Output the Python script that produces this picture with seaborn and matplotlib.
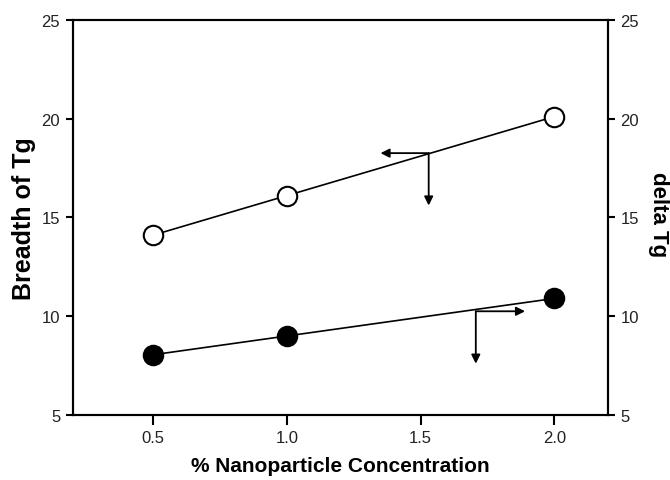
import matplotlib
matplotlib.use("Agg")
import matplotlib.pyplot as plt
import seaborn as sns
import pandas as pd

# ---- data ----
concentration = [0.5, 1.0, 2.0]
breadth_tg = [14.1, 16.1, 20.1]      # open circles, left axis
delta_tg = [8.05, 9.0, 10.9]         # filled circles, right axis
x_ticks = [0.5, 1.0, 1.5, 2.0]
y_ticks = [5, 10, 15, 20, 25]

# arrow annotations (start junction, side tip, down tip)
arrow_open_origin = (1.53, 18.25)
arrow_open_side = (1.35, 18.25)
arrow_open_down = (1.53, 15.6)
arrow_fill_origin = (1.706, 10.25)
arrow_fill_side = (1.89, 10.25)
arrow_fill_down = (1.706, 7.6)

sns.set_theme(style="white")
plt.rcParams['font.family'] = ['Liberation Sans', 'DejaVu Sans']

df = pd.DataFrame({"conc": concentration, "breadth": breadth_tg, "delta": delta_tg})

fig = plt.figure(figsize=(6.70, 4.81), dpi=100)
ax = fig.add_axes([0.1085, 0.135, 0.799, 0.822])

sns.lineplot(data=df, x="conc", y="breadth", ax=ax, color="black", lw=1.2,
             marker="o", markersize=14, markerfacecolor="white",
             markeredgecolor="black", markeredgewidth=1.5, zorder=3)
sns.lineplot(data=df, x="conc", y="delta", ax=ax, color="black", lw=1.2,
             marker="o", markersize=14, markerfacecolor="black",
             markeredgecolor="black", markeredgewidth=1.5, zorder=3)

ax.set_xlim(0.2, 2.2)
ax.set_ylim(5, 25)
ax.set_xticks(x_ticks)
ax.set_xticklabels([f"{v:.1f}" for v in x_ticks])
ax.set_yticks(y_ticks)

tick_family = ['Liberation Sans Narrow', 'Liberation Sans', 'DejaVu Sans']
for lab in ax.get_xticklabels() + ax.get_yticklabels():
    lab.set_fontfamily(tick_family)
    lab.set_fontsize(12)
    lab.set_color('#222222')

ax.set_xlabel("% Nanoparticle Concentration", fontsize=15, fontweight="bold",
              labelpad=8, color="black")
ax.set_ylabel("Breadth of Tg", fontsize=18, fontweight="bold", labelpad=4, color="black")

for s in ax.spines.values():
    s.set_color("black")
    s.set_linewidth(1.5)

ax.tick_params(axis="both", which="major", direction="out", length=5, width=1.5,
               color="black", left=True, bottom=True, pad=4)
ax.tick_params(axis="x", length=7)

ax2 = ax.twinx()
ax2.set_ylim(5, 25)
ax2.set_yticks(y_ticks)
for lab in ax2.get_yticklabels():
    lab.set_fontfamily(tick_family)
    lab.set_fontsize(12)
    lab.set_color('#222222')
ax2.tick_params(axis="y", direction="out", length=5, width=1.5, color="black", right=True, pad=4)
ax2.set_ylabel("delta Tg", fontsize=16, fontweight="bold", rotation=270, color="black",
               va="center", ha="center")
ax2.yaxis.set_label_coords(1.095, 0.51)
for s in ax2.spines.values():
    s.set_color("black")
    s.set_linewidth(1.5)
ax2.grid(False)
ax.grid(False)

aprops = dict(arrowstyle="-|>", lw=1.3, color="black", mutation_scale=13,
              shrinkA=0, shrinkB=0)
for origin, tip in [(arrow_open_origin, arrow_open_side), (arrow_open_origin, arrow_open_down),
                    (arrow_fill_origin, arrow_fill_side), (arrow_fill_origin, arrow_fill_down)]:
    ax.annotate("", xy=tip, xytext=origin, xycoords="data", textcoords="data",
                arrowprops=aprops, zorder=4)

fig.savefig("out.png", dpi=100)
